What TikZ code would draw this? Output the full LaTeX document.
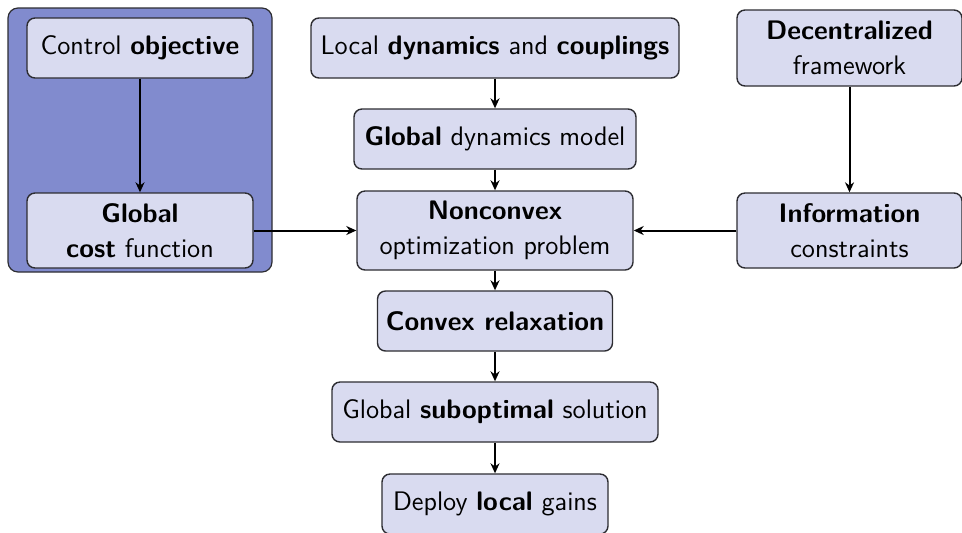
\documentclass[tikz,border=0pt]{standalone}
\usetikzlibrary{arrows.meta}
\definecolor{boxfill}{RGB}{217,219,240}
\definecolor{groupfill}{RGB}{129,139,206}
\definecolor{edgegray}{RGB}{45,45,50}
\begin{document}
\begin{tikzpicture}[x=0.5pt,y=-0.5pt,
  stepbox/.style={draw=edgegray,line width=0.7pt,fill=boxfill,rounded corners=4pt,
    align=center,inner sep=2pt,font=\sffamily\fontsize{13.4}{17.5}\selectfont},
  flow/.style={line width=1pt,-{Stealth[length=5pt,width=4.5pt,inset=1.6pt]}}]
\useasboundingbox (0,0) rectangle (962,532);
% grouping panel behind the objective and cost blocks
\path[draw=edgegray,line width=0.6pt,fill=groupfill,rounded corners=5pt] (8,8) rectangle (272,272);
% blocks
\node[stepbox,minimum width=113pt,minimum height=30pt] (ctrl) at (140,48) {Control \textbf{objective}};
\node[stepbox,minimum width=113pt,minimum height=37.5pt] (cost) at (140,230.5) {\textbf{Global}\\\textbf{cost} function};
\node[stepbox,minimum width=184pt,minimum height=30pt] (local) at (495,48) {Local \textbf{dynamics} and \textbf{couplings}};
\node[stepbox,minimum width=141pt,minimum height=30pt] (gdyn) at (495,139) {\textbf{Global} dynamics model};
\node[stepbox,minimum width=138pt,minimum height=39.5pt] (ncvx) at (495,230.5) {\textbf{Nonconvex}\\optimization problem};
\node[stepbox,minimum width=112.5pt,minimum height=38pt] (dec) at (849.5,48) {\textbf{Decentralized}\\framework};
\node[stepbox,minimum width=112.5pt,minimum height=37.5pt] (info) at (849.5,230.5) {\textbf{Information}\\constraints};
\node[stepbox,minimum width=117.5pt,minimum height=30pt] (cvx) at (495,321) {\textbf{Convex relaxation}};
\node[stepbox,minimum width=163pt,minimum height=30pt] (sub) at (495,412) {Global \textbf{suboptimal} solution};
\node[stepbox,minimum width=113pt,minimum height=30pt] (dep) at (495,504) {Deploy \textbf{local} gains};
% connectors
\draw[flow] (ctrl) -- (cost);
\draw[flow] (cost) -- (ncvx);
\draw[flow] (local) -- (gdyn);
\draw[flow] (gdyn) -- (ncvx);
\draw[flow] (dec) -- (info);
\draw[flow] (info) -- (ncvx);
\draw[flow] (ncvx) -- (cvx);
\draw[flow] (cvx) -- (sub);
\draw[flow] (sub) -- (dep);
\end{tikzpicture}
\end{document}
